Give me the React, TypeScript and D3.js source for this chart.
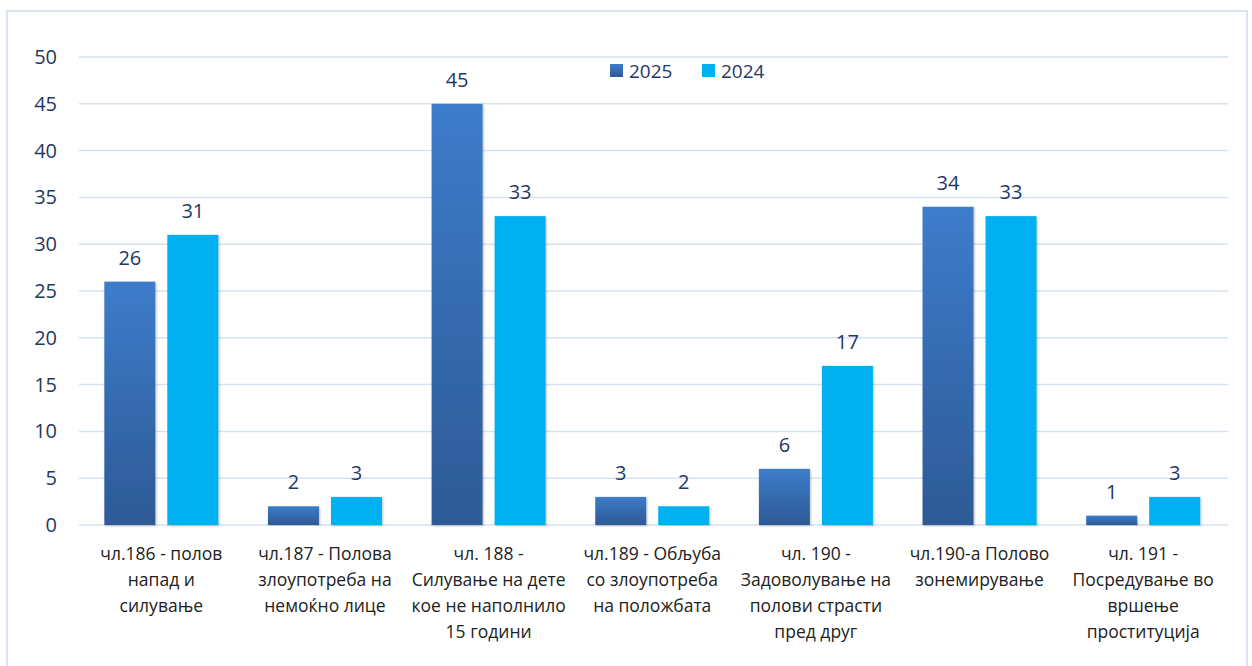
import React from 'react';
import * as d3 from 'd3';

const categories = [
  ['чл.186 - полов', 'напад и', 'силување'],
  ['чл.187 - Полова', 'злоупотреба на', 'немоќно лице'],
  ['чл. 188 -', 'Силување на дете', 'кое не наполнило', '15 години'],
  ['чл.189 - Обљуба', 'со злоупотреба', 'на положбата'],
  ['чл. 190 -', 'Задоволување на', 'полови страсти', 'пред друг'],
  ['чл.190-а Полово', 'зонемирување'],
  ['чл. 191 -', 'Посредување во', 'вршење', 'проституција'],
];
const values2025 = [26, 2, 45, 3, 6, 34, 1];
const values2024 = [31, 3, 33, 2, 17, 33, 3];
const yTicks = [0, 5, 10, 15, 20, 25, 30, 35, 40, 45, 50];
const seriesNames = ['2025', '2024'];

const W = 1252;
const H = 666;
const font = "'Open Sans', 'Noto Sans', sans-serif";
const tickColor = '#1F3864';

export default function App() {
  const x = d3.scaleBand<number>().domain(d3.range(categories.length)).range([79.5, 1225]);
  const y = d3.scaleLinear().domain([0, 50]).range([525, 57]);
  const barW = 51;
  const gap = 12;
  const series = [values2025, values2024];
  const fills = ['url(#g2025)', '#00B0F0'];

  return (
    <svg width={W} height={H} style={{ position: 'absolute', left: 0, top: 0 }}>
      <defs>
        <linearGradient id="g2025" x1="0" y1="0" x2="0" y2="1">
          <stop offset="0%" stopColor="#3D7CCB" />
          <stop offset="100%" stopColor="#2D5A95" />
        </linearGradient>
        <filter id="sh" x="-20%" y="-5%" width="140%" height="110%">
          <feDropShadow dx="1" dy="1" stdDeviation="1.2" floodColor="#000" floodOpacity="0.25" />
        </filter>
      </defs>
      <rect x={0} y={0} width={W} height={H} fill="#fff" />
      <rect x={7} y={11} width={1240} height={660} fill="none" stroke="#DAE3F3" strokeWidth={2} />
      {yTicks.map(t => (
        <g key={t}>
          <line x1={79} x2={1228} y1={y(t)} y2={y(t)} stroke="#D6E1F3" strokeWidth={1.5} />
          <text x={57} y={y(t)} dy="0.35em" textAnchor="end" fontFamily={font} fontSize={20} fill={tickColor}>
            {t}
          </text>
        </g>
      ))}
      {categories.map((c, i) => {
        const cx = (x(i) as number) + x.bandwidth() / 2;
        return (
          <g key={i}>
            {series.map((s, j) => {
              const bx = j === 0 ? cx - gap / 2 - barW : cx + gap / 2;
              return (
                <g key={j}>
                  <rect x={bx} y={y(s[i])} width={barW} height={y(0) - y(s[i])} fill={fills[j]} filter="url(#sh)" />
                  <text x={bx + barW / 2} y={y(s[i]) - 17} textAnchor="middle" fontFamily={font} fontSize={20} fill={tickColor}>
                    {s[i]}
                  </text>
                </g>
              );
            })}
            {c.map((line, k) => (
              <text key={k} x={cx} y={560 + k * 26} textAnchor="middle" fontFamily={font} fontSize={17.5} fill="#222">
                {line}
              </text>
            ))}
          </g>
        );
      })}
      {seriesNames.map((n, j) => {
        const lx = j === 0 ? 610 : 702;
        return (
          <g key={n}>
            <rect x={lx} y={64} width={13} height={13} fill={fills[j]} />
            <text x={lx + 19} y={71} dy="0.35em" fontFamily={font} fontSize={19} fill={tickColor}>
              {n}
            </text>
          </g>
        );
      })}
    </svg>
  );
}
